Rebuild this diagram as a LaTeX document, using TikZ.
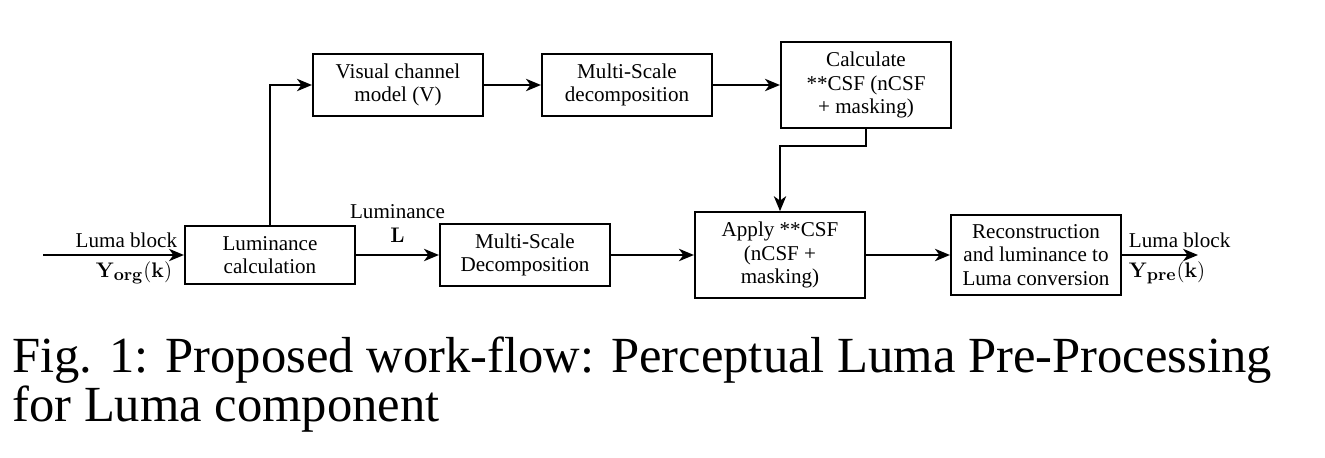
\documentclass[tikz,border=0pt]{standalone}
\usepackage[no-math]{fontspec}
\setmainfont{Liberation Serif}
\usetikzlibrary{arrows.meta}
\DeclareMathSizes{12}{12}{10}{8}

\begin{document}
\begin{tikzpicture}[
    block/.style={draw, line width=1.2pt, minimum width=3.4cm, inner xsep=0.2cm, inner ysep=0.2cm, align=center, font=\fontsize{12}{13.2}\selectfont},
    link/.style={line width=1.2pt, -{Stealth[length=8.5pt,width=7pt,inset=2.5pt]}},
    lbl/.style={font=\fontsize{12}{13.2}\selectfont, align=center}]
    \useasboundingbox (0,0) rectangle (26.5,-9.16);

    % lower row
    \node[block] (lum) at (5.40,-5.10) {Luminance\\calculation};
    \node[block] (msd) at (10.50,-5.10) {Multi-Scale\\Decomposition};
    \node[block] (apply) at (15.60,-5.10) {Apply **CSF\\(nCSF +\\masking)};
    \node[block] (rec) at (20.72,-5.10) {Reconstruction\\and luminance to\\Luma conversion};

    % upper row
    \node[block] (vis) at (7.96,-1.70) {Visual channel\\model (V)};
    \node[block] (msdup) at (12.54,-1.70) {Multi-Scale\\decomposition};
    \node[block] (calc) at (17.32,-1.70) {Calculate\\**CSF (nCSF\\+ masking)};

    \coordinate (in) at (0.86,-5.10);
    \coordinate (out) at (23.96,-5.10);

    \draw[link] (in) -- (lum)
        node[lbl, pos=1, above left] {Luma block}
        node[lbl, pos=1, below left, xshift=-0.1cm] {$\mathbf{Y}_{\mathbf{org}}(\mathbf{k})$};
    \draw[link] (lum) -- (msd)
        node[lbl, midway, above=0.12cm] {Luminance\\$\mathbf{L}$};
    \draw[link] (msd) -- (apply);
    \draw[link] (apply) -- (rec);
    \draw[link] (rec) -- (out)
        node[lbl, pos=0, above right] {Luma block}
        node[lbl, pos=0, below right] {$\mathbf{Y}_{\mathbf{pre}}(\mathbf{k})$};

    \draw[link] (lum.north) |- (vis.west);
    \draw[link] (vis) -- (msdup);
    \draw[link] (msdup) -- (calc);
    \draw[link] (calc.south) -- ++(0,-0.34) -| (apply.north);

    % caption
    \node[anchor=base west, inner sep=0pt, align=left, font=\fontsize{28.8}{28.45}\selectfont] (cap) at (0.24,-8.44)
        {Fig. 1: Proposed work-flow: Perceptual Luma Pre-Processing\\for Luma component};
\end{tikzpicture}
\end{document}
